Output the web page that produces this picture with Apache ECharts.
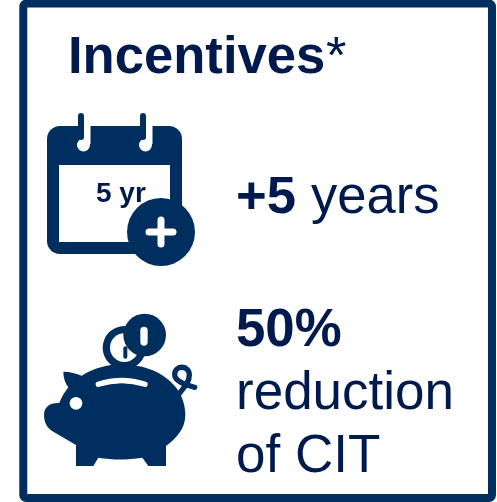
<!DOCTYPE html>
<html>
<head>
<meta charset="utf-8">
<style>
  html, body { margin: 0; padding: 0; background: #fff; }
  #chart { width: 497px; height: 502px; }
</style>
<script src="https://cdn.jsdelivr.net/npm/echarts@6/dist/echarts.min.js"></script>
</head>
<body>
<div id="chart"></div>
<script>
const icons = ['calendar', 'pig'];
const titleText = 'Incentives';
const titleMark = '*';
const iconLabel = '5 yr';
const yearsBold = '+5';
const yearsText = 'years';
const reductionBold = '50%';
const reductionLines = ['reduction', 'of CIT'];

const frameColor = '#002f5f';
const textColor = '#001a4e';
const fontFamily = '"Liberation Sans", Arial, sans-serif';

const dark = { fill: frameColor };
const white = { fill: '#fff' };

const calendarRing = (x) => [
    { type: 'rect', shape: { x: x, y: 120, width: 7, height: 24 }, style: white },
    { type: 'circle', shape: { cx: x, cy: 145, r: 6.5 }, style: white },
    { type: 'line', shape: { x1: x - 2.5, y1: 116, x2: x - 2.5, y2: 137 }, style: { stroke: frameColor, lineWidth: 6, lineCap: 'round' } }
];

const calendarIcon = () => ({
    type: 'group',
    children: [
        { type: 'rect', shape: { x: 47, y: 126, width: 135, height: 128, r: 13 }, style: dark },
        ...calendarRing(83.5),
        ...calendarRing(145.5),
        { type: 'rect', shape: { x: 59, y: 165, width: 111, height: 77 }, style: white },
        { type: 'circle', shape: { cx: 161, cy: 232, r: 34 }, style: dark },
        { type: 'line', shape: { x1: 149, y1: 232, x2: 173, y2: 232 }, style: { stroke: '#fff', lineWidth: 7, lineCap: 'round' } },
        { type: 'line', shape: { x1: 161, y1: 220, x2: 161, y2: 244 }, style: { stroke: '#fff', lineWidth: 7, lineCap: 'round' } }
    ]
});

// pig is traced in 3x units, the group scales it back down
const pigIcon = () => ({
    type: 'group',
    x: 30,
    y: 300,
    scaleX: 1 / 3,
    scaleY: 1 / 3,
    children: [
        { type: 'circle', shape: { cx: 283, cy: 143, r: 65 }, style: dark },
        { type: 'circle', shape: { cx: 283, cy: 143, r: 43 }, style: white },
        { type: 'circle', shape: { cx: 344, cy: 105, r: 64 }, style: dark },
        { type: 'rect', shape: { x: 331, y: 80, width: 22, height: 57, r: 11 }, style: white },
        { type: 'line', shape: { x1: 286, y1: 145, x2: 286, y2: 170 }, style: { stroke: frameColor, lineWidth: 12, lineCap: 'round' } },
        {
            type: 'path',
            shape: {
                pathData: 'M42 345C42 322 58 308 88 309C95 290 105 275 115 262C105 250 100 232 100 215C120 215 140 220 155 227C190 205 235 193 270 193C340 193 400 215 440 265C458 290 466 320 466 345C466 385 440 415 408 438L408 498L355 498L337 473C290 480 250 480 205 473L190 498L138 498L138 435L65 392C50 382 42 365 42 345Z'
            },
            style: dark
        },
        {
            type: 'path',
            shape: { pathData: 'M445 285C458 265 478 250 478 225C478 196 436 193 434 222C432 245 470 255 494 262' },
            style: { fill: 'none', stroke: frameColor, lineWidth: 16, lineCap: 'round' }
        },
        {
            type: 'path',
            shape: { pathData: 'M205 253Q275 230 345 253' },
            style: { fill: 'none', stroke: '#fff', lineWidth: 16, lineCap: 'round' }
        },
        { type: 'circle', shape: { cx: 138, cy: 310, r: 19 }, style: white }
    ]
});

const label = (x, y, text, size, weight) => ({
    type: 'text',
    x: x,
    y: y,
    z: 10,
    style: {
        text: text,
        fill: textColor,
        font: `${weight} ${size}px ${fontFamily}`
    }
});

const chart = echarts.init(document.getElementById('chart'), null, { renderer: 'canvas' });
chart.setOption({
    animation: false,
    backgroundColor: '#fff',
    graphic: [
        {
            type: 'rect',
            shape: { x: 23.3, y: 3.5, width: 468.7, height: 494.5, r: 3 },
            style: { fill: 'none', stroke: frameColor, lineWidth: 8 }
        },
        label(68, 32, titleText, 52.6, 'bold'),
        label(326, 32, titleMark, 52.6, 'normal'),
        label(96, 180, iconLabel, 28, 'bold'),
        label(236, 171.5, yearsBold, 52.6, 'bold'),
        label(311, 171.5, yearsText, 52.6, 'normal'),
        label(236, 305, reductionBold, 52.8, 'bold'),
        label(236, 368, reductionLines[0], 53, 'normal'),
        label(236, 431, reductionLines[1], 53, 'normal')
    ],
    series: [{
        type: 'custom',
        coordinateSystem: 'none',
        data: icons,
        renderItem: (params) => (icons[params.dataIndex] === 'calendar' ? calendarIcon() : pigIcon())
    }]
});
</script>
</body>
</html>
